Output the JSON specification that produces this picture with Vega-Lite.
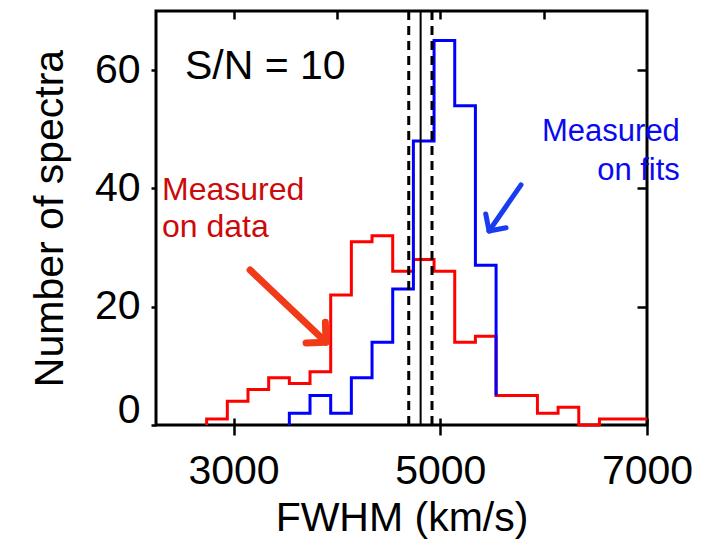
{
  "$schema": "https://vega.github.io/schema/vega-lite/v6.json",
  "width": 491,
  "height": 414,
  "autosize": {"type": "none"},
  "padding": {"left": 156, "top": 11, "right": 59, "bottom": 119},
  "background": "white",
  "config": {
    "font": "Liberation Sans",
    "view": {"stroke": "black", "strokeWidth": 3},
    "axis": {"domain": false, "grid": false, "tickColor": "black", "tickWidth": 2.5, "labelColor": "black", "titleColor": "black", "labelFont": "Liberation Sans", "titleFont": "Liberation Sans", "labelFontSize": 41, "titleFontSize": 41, "titleFontWeight": "normal"}
  },
  "datasets": {
    "red": [
      {"i": 0, "x": 2740, "y": 0}, {"i": 1, "x": 2740, "y": 1}, {"i": 2, "x": 2940, "y": 4}, {"i": 3, "x": 3140, "y": 6},
      {"i": 4, "x": 3340, "y": 8}, {"i": 5, "x": 3540, "y": 7}, {"i": 6, "x": 3740, "y": 9}, {"i": 7, "x": 3940, "y": 22},
      {"i": 8, "x": 4140, "y": 31}, {"i": 9, "x": 4340, "y": 32}, {"i": 10, "x": 4540, "y": 26}, {"i": 11, "x": 4740, "y": 28},
      {"i": 12, "x": 4940, "y": 26}, {"i": 13, "x": 5140, "y": 14}, {"i": 14, "x": 5340, "y": 15}, {"i": 15, "x": 5540, "y": 5},
      {"i": 16, "x": 5740, "y": 5}, {"i": 17, "x": 5940, "y": 2}, {"i": 18, "x": 6140, "y": 3}, {"i": 19, "x": 6340, "y": 0},
      {"i": 20, "x": 6540, "y": 1}, {"i": 21, "x": 7000, "y": 1}
    ],
    "blue": [
      {"i": 0, "x": 3540, "y": 0}, {"i": 1, "x": 3540, "y": 2}, {"i": 2, "x": 3740, "y": 5}, {"i": 3, "x": 3940, "y": 2},
      {"i": 4, "x": 4140, "y": 8}, {"i": 5, "x": 4340, "y": 14}, {"i": 6, "x": 4540, "y": 23}, {"i": 7, "x": 4740, "y": 48},
      {"i": 8, "x": 4940, "y": 65}, {"i": 9, "x": 5140, "y": 54}, {"i": 10, "x": 5340, "y": 27}, {"i": 11, "x": 5540, "y": 5}
    ],
    "dashed": [{"x": 4695}, {"x": 4920}],
    "solid": [{"x": 4810}],
    "redArrow": [{"x": 3160, "y": 26.2, "x2": 3895, "y2": 14.0}],
    "blueArrow": [{"x": 5781, "y": 40.6, "x2": 5472, "y2": 32.8}],
    "blackText": [{"x": 2530, "y": 60.5, "label": "S/N = 10"}],
    "redText": [{"x": 2308, "y": 39.8, "label": "Measured"}, {"x": 2308, "y": 33.4, "label": "on data"}],
    "blueText": [{"x": 7318, "y": 49.5, "label": "Measured"}, {"x": 7318, "y": 42.9, "label": "on fits"}]
  },
  "resolve": {"axis": {"x": "independent", "y": "independent"}},
  "layer": [
    {
      "data": {"name": "red"},
      "mark": {"type": "line", "interpolate": "step-after", "color": "#FF0000", "strokeWidth": 3},
      "encoding": {
        "x": {"field": "x", "type": "quantitative", "scale": {"domain": [2250, 7000], "nice": false, "zero": false},
              "axis": {"orient": "bottom", "values": [3000, 5000, 7000], "format": "d", "tickSize": 10, "labelPadding": 16, "title": "FWHM (km/s)", "titlePadding": 7, "labelFlush": false}},
        "y": {"field": "y", "type": "quantitative", "scale": {"domain": [0, 70], "nice": false},
              "axis": {"orient": "left", "values": [0, 20, 40, 60], "format": "d", "tickSize": 5, "labelPadding": 11, "title": "Number of spectra", "titlePadding": 23, "labelFlush": true, "labelFlushOffset": 6}},
        "order": {"field": "i"}
      }
    },
    {
      "data": {"name": "blue"},
      "mark": {"type": "line", "interpolate": "step-after", "color": "#0000FF", "strokeWidth": 3},
      "encoding": {
        "x": {"field": "x", "type": "quantitative", "axis": {"orient": "top", "values": [3000, 4000, 5000, 6000], "tickSize": -8, "labels": false, "title": null}},
        "y": {"field": "y", "type": "quantitative", "axis": {"orient": "right", "values": [20, 40, 60], "tickSize": -10, "labels": false, "title": null}},
        "order": {"field": "i"}
      }
    },
    {
      "data": {"name": "dashed"},
      "mark": {"type": "rule", "color": "black", "strokeWidth": 3, "strokeDash": [9, 6]},
      "encoding": {
        "x": {"field": "x", "type": "quantitative", "axis": {"orient": "bottom", "values": [3000, 5000, 7000], "tickSize": -7, "labels": false, "title": null}}
      }
    },
    {
      "data": {"name": "solid"},
      "mark": {"type": "rule", "color": "black", "strokeWidth": 2},
      "encoding": {
        "x": {"field": "x", "type": "quantitative", "axis": null}
      }
    },
    {
      "data": {"name": "redArrow"},
      "mark": {"type": "rule", "color": "#F03A18", "strokeWidth": 7, "strokeCap": "round"},
      "encoding": {
        "x": {"field": "x", "type": "quantitative", "axis": null},
        "y": {"field": "y", "type": "quantitative", "axis": null},
        "x2": {"field": "x2"},
        "y2": {"field": "y2"}
      }
    },
    {
      "data": {"name": "redArrow"},
      "mark": {"type": "point", "shape": "M-1,1L0,0L1,1", "filled": false, "stroke": "#F03A18", "strokeWidth": 7, "size": 800, "angle": 133, "strokeCap": "round", "strokeJoin": "round", "opacity": 1},
      "encoding": {
        "x": {"field": "x2", "type": "quantitative", "axis": null},
        "y": {"field": "y2", "type": "quantitative", "axis": null}
      }
    },
    {
      "data": {"name": "blueArrow"},
      "mark": {"type": "rule", "color": "#1A3CF0", "strokeWidth": 5, "strokeCap": "round"},
      "encoding": {
        "x": {"field": "x", "type": "quantitative", "axis": null},
        "y": {"field": "y", "type": "quantitative", "axis": null},
        "x2": {"field": "x2"},
        "y2": {"field": "y2"}
      }
    },
    {
      "data": {"name": "blueArrow"},
      "mark": {"type": "point", "shape": "M-1,1L0,0L1,1", "filled": false, "stroke": "#1A3CF0", "strokeWidth": 5, "size": 600, "angle": 214, "strokeCap": "round", "strokeJoin": "round", "opacity": 1},
      "encoding": {
        "x": {"field": "x2", "type": "quantitative", "axis": null},
        "y": {"field": "y2", "type": "quantitative", "axis": null}
      }
    },
    {
      "data": {"name": "blackText"},
      "mark": {"type": "text", "align": "left", "baseline": "middle", "fontSize": 41, "color": "black", "font": "Liberation Sans"},
      "encoding": {
        "x": {"field": "x", "type": "quantitative", "axis": null},
        "y": {"field": "y", "type": "quantitative", "axis": null},
        "text": {"field": "label"}
      }
    },
    {
      "data": {"name": "redText"},
      "mark": {"type": "text", "align": "left", "baseline": "middle", "fontSize": 32, "color": "#CC0A0A", "font": "Liberation Sans"},
      "encoding": {
        "x": {"field": "x", "type": "quantitative", "axis": null},
        "y": {"field": "y", "type": "quantitative", "axis": null},
        "text": {"field": "label"}
      }
    },
    {
      "data": {"name": "blueText"},
      "mark": {"type": "text", "align": "right", "baseline": "middle", "fontSize": 31, "color": "#0A0AF0", "font": "Liberation Sans"},
      "encoding": {
        "x": {"field": "x", "type": "quantitative", "axis": null},
        "y": {"field": "y", "type": "quantitative", "axis": null},
        "text": {"field": "label"}
      }
    }
  ]
}
